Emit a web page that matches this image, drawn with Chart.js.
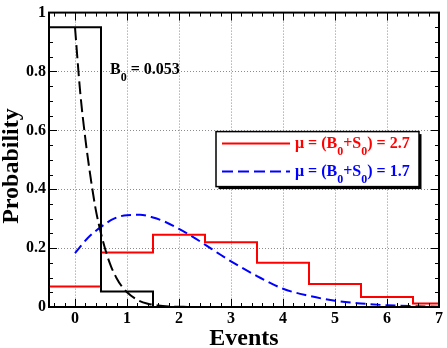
<!DOCTYPE html>
<html lang="en">
<head>
  <meta charset="UTF-8" />
  <title>Event probability</title>
  <script src="https://cdn.jsdelivr.net/npm/chart.js"></script>
  <style>
    body { margin: 0; background: #fff; }
  </style>
</head>
<body>
  <canvas id="probChart" width="447" height="348"></canvas>

  <script>
    // Histogram bins (edges and heights)
    const redEdges = [-0.5, 0.5, 1.5, 2.5, 3.5, 4.5, 5.5, 6.5, 7];
    const redBins = [0.07, 0.185, 0.245, 0.22, 0.15, 0.078, 0.034, 0.012];
    const blackEdges = [-0.5, 0.5, 1.5, 7];
    const blackBins = [0.95, 0.053, 0];

    // Dashed curves
    const blackCurveX = [0, 0.1, 0.2, 0.3, 0.4, 0.5, 0.6, 0.7, 0.8, 0.9, 1.0, 1.2, 1.4, 1.6, 1.8, 2.0, 2.2];
    const blackCurveY = [0.95, 0.73, 0.57, 0.44, 0.33, 0.25, 0.185, 0.135, 0.098, 0.07, 0.05, 0.024, 0.011, 0.005, 0.002, 0.001, 0];
    const blueCurveX = [0, 0.25, 0.5, 0.75, 1, 1.25, 1.5, 1.75, 2, 2.25, 2.5, 2.75, 3, 3.5, 4, 4.5, 5, 5.5, 6, 6.5, 7];
    const blueCurveY = [0.183, 0.235, 0.272, 0.3, 0.312, 0.313, 0.304, 0.288, 0.265, 0.24, 0.212, 0.183, 0.155, 0.105, 0.062, 0.038, 0.021, 0.012, 0.006, 0.003, 0.001];

    // Axis ticks
    const xTicks = [0, 1, 2, 3, 4, 5, 6, 7];
    const yTicks = [0, 0.2, 0.4, 0.6, 0.8, 1];

    // Text (odd entries are subscripts)
    const legendRed = ["\u03bc = (B", "0", "+S", "0", ") = 2.7"];
    const legendBlue = ["\u03bc = (B", "0", "+S", "0", ") = 1.7"];
    const noteText = ["B", "0", " = 0.053"];
    const xTitle = "Events";
    const yTitle = "Probability";

    const serif = '"Liberation Serif", "Times New Roman", serif';

    // turn bin edges + heights into points for a stepped line
    function stepPoints(edges, vals) {
      const pts = [{ x: edges[0], y: 0 }];
      vals.forEach((v, i) => pts.push({ x: edges[i], y: v }));
      pts.push({ x: edges[edges.length - 1], y: vals[vals.length - 1] });
      return pts;
    }

    function curvePoints(xs, ys) {
      return xs.map((x, i) => ({ x: x, y: ys[i] }));
    }

    // draw text with subscripts, returns end x
    function drawRich(ctx, parts, x, y, color, size) {
      ctx.fillStyle = color;
      ctx.textAlign = "left";
      ctx.textBaseline = "alphabetic";
      parts.forEach((p, i) => {
        const sub = i % 2 === 1;
        ctx.font = "bold " + (sub ? Math.round(size * 0.75) : size) + "px " + serif;
        ctx.fillText(p, x, sub ? y + 7 : y);
        x += ctx.measureText(p).width;
      });
      return x;
    }

    // ticks, frame, legend, note and axis titles
    const decorations = {
      id: "decorations",
      afterDatasetsDraw(chart) {
        const { ctx, chartArea: a, scales: { x, y } } = chart;
        ctx.save();
        ctx.strokeStyle = "#000";
        ctx.lineWidth = 1;
        ctx.beginPath();
        for (let i = -2; i <= 35; i++) {
          const px = Math.round(x.getPixelForValue(i / 5)) + 0.5;
          const len = i % 5 === 0 ? 8 : 4;
          ctx.moveTo(px, a.bottom); ctx.lineTo(px, a.bottom - len);
          ctx.moveTo(px, a.top); ctx.lineTo(px, a.top + len);
        }
        for (let i = 1; i < 20; i++) {
          const py = Math.round(y.getPixelForValue(i / 20)) + 0.5;
          const len = i % 4 === 0 ? 8 : 4;
          ctx.moveTo(a.left, py); ctx.lineTo(a.left + len, py);
          ctx.moveTo(a.right, py); ctx.lineTo(a.right - len, py);
        }
        ctx.stroke();

        ctx.lineWidth = 2;
        ctx.strokeRect(a.left, a.top, a.right - a.left, a.bottom - a.top);

        // legend box with shadow
        const bx = a.left + 167, by = a.top + 119, bw = 203, bh = 55;
        ctx.fillStyle = "#000";
        ctx.fillRect(bx + 2.5, by + 2.5, bw, bh);
        ctx.fillStyle = "#fff";
        ctx.fillRect(bx, by, bw, bh);
        ctx.lineWidth = 1.5;
        ctx.strokeRect(bx, by, bw, bh);

        ctx.lineWidth = 2;
        ctx.strokeStyle = "#ff0000";
        ctx.beginPath();
        ctx.moveTo(bx + 6, by + 12); ctx.lineTo(bx + 74, by + 12);
        ctx.stroke();
        ctx.strokeStyle = "#0000ff";
        ctx.setLineDash([11, 5]);
        ctx.beginPath();
        ctx.moveTo(bx + 6, by + 40); ctx.lineTo(bx + 74, by + 40);
        ctx.stroke();
        ctx.setLineDash([]);

        drawRich(ctx, legendRed, bx + 79, by + 16, "#ff0000", 16);
        drawRich(ctx, legendBlue, bx + 79, by + 44, "#0000ff", 16);

        drawRich(ctx, noteText, a.left + 61, a.top + 61, "#000", 16);
        ctx.restore();
      },
      afterDraw(chart) {
        const { ctx, chartArea: a } = chart;
        ctx.save();
        ctx.fillStyle = "#000";
        ctx.font = "bold 24px " + serif;
        ctx.textBaseline = "alphabetic";
        ctx.textAlign = "center";
        ctx.fillText(xTitle, (a.left + a.right) / 2, 345);
        ctx.translate(18, 166);
        ctx.rotate(-Math.PI / 2);
        ctx.fillText(yTitle, 0, 0);
        ctx.restore();
      }
    };

    const ctx = document.getElementById("probChart").getContext("2d");

    new Chart(ctx, {
      type: "line",
      data: {
        datasets: [
          {
            label: "B0 histogram",
            data: stepPoints(blackEdges, blackBins),
            borderColor: "#000",
            borderWidth: 2,
            stepped: "before",
            pointRadius: 0,
            clip: 4
          },
          {
            label: "B0 curve",
            data: curvePoints(blackCurveX, blackCurveY),
            borderColor: "#000",
            borderWidth: 2,
            borderDash: [13, 5],
            cubicInterpolationMode: "monotone",
            pointRadius: 0,
            clip: 4
          },
          {
            label: "mu 2.7",
            data: stepPoints(redEdges, redBins),
            borderColor: "#ff0000",
            borderWidth: 2,
            stepped: "before",
            pointRadius: 0,
            clip: 4
          },
          {
            label: "mu 1.7",
            data: curvePoints(blueCurveX, blueCurveY),
            borderColor: "#0000ff",
            borderWidth: 2,
            borderDash: [10, 5],
            cubicInterpolationMode: "monotone",
            pointRadius: 0,
            clip: 4
          }
        ]
      },
      options: {
        responsive: false,
        animation: false,
        layout: { padding: { top: 11, right: 8, bottom: 0, left: 0 } },
        plugins: {
          legend: { display: false },
          tooltip: { enabled: false }
        },
        scales: {
          x: {
            type: "linear",
            min: -0.5,
            max: 7,
            afterBuildTicks: (s) => { s.ticks = xTicks.map(v => ({ value: v })); },
            afterFit: (s) => { s.height = 41; },
            grid: { color: "#8c8c8c", lineWidth: 1, drawTicks: false },
            border: { display: false, dash: [1, 2] },
            ticks: {
              color: "#000",
              padding: 2,
              maxRotation: 0,
              callback: (v) => String(v),
              font: { family: serif, size: 16, weight: "bold" }
            }
          },
          y: {
            type: "linear",
            min: 0,
            max: 1,
            afterBuildTicks: (s) => { s.ticks = yTicks.map(v => ({ value: v })); },
            afterFit: (s) => { s.width = 49; },
            grid: { color: "#8c8c8c", lineWidth: 1, drawTicks: false },
            border: { display: false, dash: [1, 2] },
            ticks: {
              color: "#000",
              padding: 3,
              callback: (v) => String(v),
              font: { family: serif, size: 16, weight: "bold" }
            }
          }
        }
      },
      plugins: [decorations]
    });
  </script>
</body>
</html>
